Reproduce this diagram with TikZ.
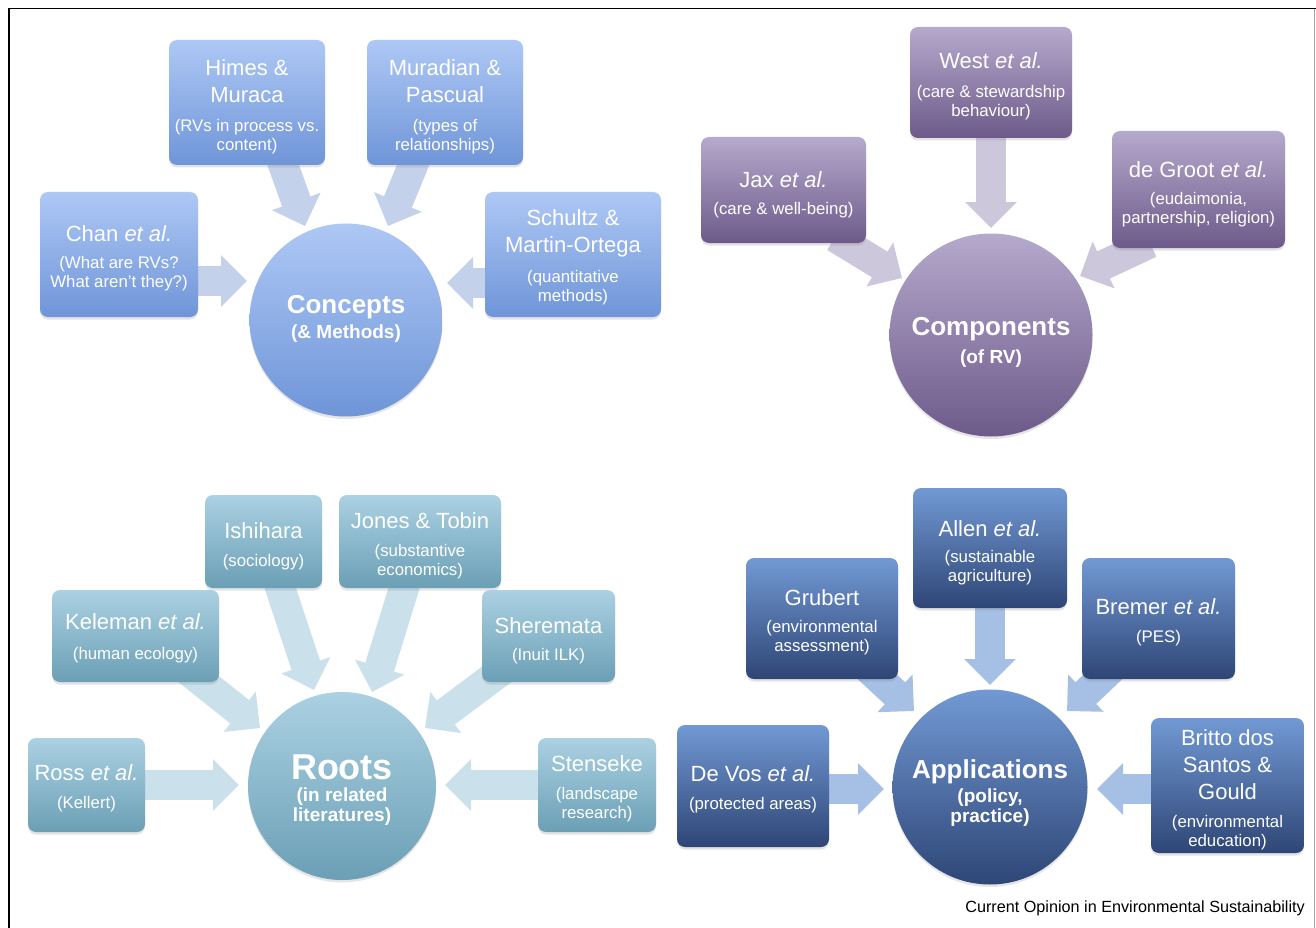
\documentclass[tikz,border=0pt]{standalone}
\usepackage{fontspec}
\setmainfont{Liberation Sans}
\usetikzlibrary{arrows.meta,shadows}
\pgfdeclarelayer{bg}
\pgfsetlayers{bg,main}

\definecolor{cCt}{HTML}{AEC8F5}\definecolor{cCb}{HTML}{6F95D8}\definecolor{cCa}{HTML}{C4D1EB}
\definecolor{cPt}{HTML}{B5A9CC}\definecolor{cPb}{HTML}{6D5A8A}\definecolor{cPa}{HTML}{CDC7DB}
\definecolor{cRt}{HTML}{ABD1E2}\definecolor{cRb}{HTML}{6B9FB5}\definecolor{cRa}{HTML}{CAE1EB}
\definecolor{cAt}{HTML}{7299D4}\definecolor{cAb}{HTML}{2E4676}\definecolor{cAa}{HTML}{A6BFE4}

\tikzset{
  box/.style={rounded corners=8pt, inner sep=0pt,
    drop shadow={shadow xshift=0pt, shadow yshift=-2.5pt, opacity=.22}},
  boxC/.style={box, top color=cCt, bottom color=cCb},
  boxP/.style={box, top color=cPt, bottom color=cPb},
  boxR/.style={box, top color=cRt, bottom color=cRb},
  boxA/.style={box, top color=cAt, bottom color=cAb},
  hub/.style={circle, inner sep=0pt,
    drop shadow={shadow xshift=0pt, shadow yshift=-2.5pt, opacity=.2}},
  hubC/.style={hub, top color=cCt, bottom color=cCb},
  hubP/.style={hub, top color=cPt, bottom color=cPb},
  hubR/.style={hub, top color=cRt, bottom color=cRb},
  hubA/.style={hub, top color=cAt, bottom color=cAb},
  head/.style={text=white, font=\fontsize{22}{27}\selectfont, align=center, inner sep=0pt, yshift=-1.5pt},
  sub/.style={text=white, font=\fontsize{16.8}{19}\selectfont, align=center, inner sep=0pt, yshift=-1.5pt},
  title/.style={text=white, font=\bfseries\fontsize{26}{30}\selectfont, align=center, inner sep=0pt, yshift=-1pt},
  bigtitle/.style={text=white, font=\bfseries\fontsize{36}{40}\selectfont, align=center, inner sep=0pt, yshift=-1pt},
  subtitle/.style={text=white, font=\bfseries\fontsize{19}{20}\selectfont, align=center, inner sep=0pt, yshift=-1pt},
  blockarrow/.style={line width=30pt, -{Triangle[width=50pt,length=26pt]}},
  arrC/.style={blockarrow, draw=cCa, fill=cCa},
  arrP/.style={blockarrow, draw=cPa, fill=cPa},
  arrR/.style={blockarrow, draw=cRa, fill=cRa},
  arrA/.style={blockarrow, draw=cAa, fill=cAa},
}

\begin{document}
\begin{tikzpicture}[x=1pt,y=-1pt]
\useasboundingbox (0,0) rectangle (1316,928);
\begin{pgfonlayer}{bg}
\fill[white] (0,0) rectangle (1316,928);
\end{pgfonlayer}
% frame
\draw[line width=1.6pt] (9,928) -- (9,8.5) -- (1316,8.5);
\draw[black!35, line width=0.8pt] (1314.5,9) -- (1314.5,928);

% ================= Concepts =================
\node[hubC, minimum size=193pt] (concepts) at (346,320) {};
\node[title] (conT) at (346,306) {Concepts};
\node[subtitle] (conS) at (346,333) {(\& Methods)};

\node[boxC, minimum width=156pt, minimum height=125pt] (him) at (247,102.5) {};
\node[head] (himH) at (247,79.5) {Himes \&\\Muraca};
\node[sub] (himS) at (247,135) {(RVs in process vs.\\content)};

\node[boxC, minimum width=156pt, minimum height=125pt] (mur) at (445,102.5) {};
\node[head] (murH) at (445,79.5) {Muradian \&\\Pascual};
\node[sub] (murS) at (445,135.5) {(types of\\relationships)};

\node[boxC, minimum width=158pt, minimum height=125pt] (chan) at (119,254.5) {};
\node[head] (chanH) at (119,232) {Chan \textit{et al.}};
\node[sub] (chanS) at (119,272.5) {(What are RVs?\\What aren’t they?)};

\node[boxC, minimum width=176pt, minimum height=125pt] (sch) at (573,254.5) {};
\node[head] (schH) at (573,231.5) {Schultz \&\\Martin-Ortega};
\node[sub] (schS) at (573,286.5) {(quantitative\\methods)};

\coordinate (tC1) at (305,226);
\coordinate (tC2) at (388,226);
\coordinate (tC3) at (247,281);
\coordinate (tC4) at (447,283);

% ================= Components =================
\node[hubP, minimum size=203pt] (components) at (991,335) {};
\node[title] (compT) at (991,328) {Components};
\node[subtitle] (compS) at (991,358) {(of RV)};

\node[boxP, minimum width=162pt, minimum height=111pt] (west) at (991,82.5) {};
\node[head] (westH) at (991,59) {West \textit{et al.}};
\node[sub] (westS) at (991,101) {(care \& stewardship\\behaviour)};

\node[boxP, minimum width=165pt, minimum height=106pt] (jax) at (783.5,190) {};
\node[head] (jaxH) at (783.5,178) {Jax \textit{et al.}};
\node[sub] (jaxS) at (783.5,209) {(care \& well-being)};

\node[boxP, minimum width=173pt, minimum height=117pt] (groot) at (1198.5,189.5) {};
\node[head] (grootH) at (1198.5,168) {de Groot \textit{et al.}};
\node[sub] (grootS) at (1198.5,208.5) {(eudaimonia,\\partnership, religion)};

\coordinate (tP1) at (991,228);
\coordinate (tP2) at (902,278);
\coordinate (tP3) at (1080,276);

% ================= Roots =================
\node[hubR, minimum size=188pt] (roots) at (342,786) {};
\node[bigtitle] (rootT) at (342,766) {Roots};
\node[subtitle] (rootS) at (342,806) {(in related\\literatures)};

\node[boxR, minimum width=117pt, minimum height=93pt] (ish) at (263.5,541.5) {};
\node[head] (ishH) at (263.5,529) {Ishihara};
\node[sub] (ishS) at (263.5,561) {(sociology)};

\node[boxR, minimum width=162pt, minimum height=93pt] (jones) at (420,541.5) {};
\node[head] (jonesH) at (420,519) {Jones \& Tobin};
\node[sub] (jonesS) at (420,560) {(substantive\\economics)};

\node[boxR, minimum width=167pt, minimum height=92pt] (kel) at (135.5,636) {};
\node[head] (kelH) at (135.5,620) {Keleman \textit{et al.}};
\node[sub] (kelS) at (135.5,654) {(human ecology)};

\node[boxR, minimum width=133pt, minimum height=92pt] (sher) at (548.5,636) {};
\node[head] (sherH) at (548.5,624) {Sheremata};
\node[sub] (sherS) at (548.5,655) {(Inuit ILK)};

\node[boxR, minimum width=117pt, minimum height=94pt] (ross) at (86.5,785) {};
\node[head] (rossH) at (86.5,771) {Ross \textit{et al.}};
\node[sub] (rossS) at (86.5,803) {(Kellert)};

\node[boxR, minimum width=118pt, minimum height=94pt] (sten) at (597,785) {};
\node[head] (stenH) at (597,762) {Stenseke};
\node[sub] (stenS) at (597,803) {(landscape\\research)};

\coordinate (tR1) at (314,690);
\coordinate (tR2) at (372,692);
\coordinate (tR3) at (260,728);
\coordinate (tR4) at (425,728);
\coordinate (tR5) at (239,785);
\coordinate (tR6) at (445,785);

% ================= Applications =================
\node[hubA, minimum size=195pt] (applications) at (990,787) {};
\node[title] (appT) at (990,771) {Applications};
\node[subtitle] (appS) at (990,806.5) {(policy,\\practice)};

\node[boxA, minimum width=154pt, minimum height=120pt] (allen) at (990,548) {};
\node[head] (allenH) at (990,527) {Allen \textit{et al.}};
\node[sub] (allenS) at (990,566.5) {(sustainable\\agriculture)};

\node[boxA, minimum width=152pt, minimum height=121pt] (grub) at (822,618.5) {};
\node[head] (grubH) at (822,596) {Grubert};
\node[sub] (grubS) at (822,636) {(environmental\\assessment)};

\node[boxA, minimum width=153pt, minimum height=121pt] (brem) at (1158.5,618.5) {};
\node[head] (bremH) at (1158.5,605) {Bremer \textit{et al.}};
\node[sub] (bremS) at (1158.5,637) {(PES)};

\node[boxA, minimum width=152pt, minimum height=122pt] (devos) at (753,786) {};
\node[head] (devosH) at (753,772) {De Vos \textit{et al.}};
\node[sub] (devosS) at (753,804) {(protected areas)};

\node[boxA, minimum width=153pt, minimum height=135pt] (britto) at (1227.5,785.5) {};
\node[head] (brittoH) at (1227.5,763) {Britto dos\\Santos \&\\Gould};
\node[sub] (brittoS) at (1227.5,831.5) {(environmental\\education)};

\coordinate (tA1) at (990,685);
\coordinate (tA2) at (914,711);
\coordinate (tA3) at (1067,711);
\coordinate (tA4) at (884,789);
\coordinate (tA5) at (1097,789);

% caption
\node[anchor=east, inner sep=0pt, font=\fontsize{16.2}{18}\selectfont] (caption) at (1305,908)
  {Current Opinion in Environmental Sustainability};

% ================= arrows (behind) =================
\begin{pgfonlayer}{bg}
\draw[arrC] ([xshift=32pt,yshift=12pt]him.south) -- (tC1);
\draw[arrC] ([xshift=-27pt,yshift=12pt]mur.south) -- (tC2);
\draw[arrC] ([xshift=-13pt,yshift=-26.5pt]chan.east) -- (tC3);
\draw[arrC] ([xshift=15pt,yshift=-28.5pt]sch.west) -- (tC4);

\draw[arrP] ([yshift=10pt]west.south) -- (tP1);
\draw[arrP] ([xshift=51.5pt,yshift=6pt]jax.south) -- (tP2);
\draw[arrP] ([xshift=-48.5pt,yshift=5pt]groot.south) -- (tP3);

\draw[arrR] ([xshift=12.5pt,yshift=13pt]ish.south) -- (tR1);
\draw[arrR] ([xshift=-12pt,yshift=13pt]jones.south) -- (tR2);
\draw[arrR] ([xshift=49.5pt,yshift=14pt]kel.south) -- (tR3);
\draw[arrR] ([xshift=-43.5pt,yshift=14pt]sher.south) -- (tR4);
\draw[arrR] ([xshift=-15pt]ross.east) -- (tR5);
\draw[arrR] ([xshift=12pt]sten.west) -- (tR6);

\draw[arrA] ([yshift=12pt]allen.south) -- (tA1);
\draw[arrA] ([xshift=46pt,yshift=11pt]grub.south) -- (tA2);
\draw[arrA] ([xshift=-46.5pt,yshift=11pt]brem.south) -- (tA3);
\draw[arrA] ([xshift=-14pt,yshift=-3pt]devos.east) -- (tA4);
\draw[arrA] ([xshift=14pt,yshift=-3.5pt]britto.west) -- (tA5);
\end{pgfonlayer}
\end{tikzpicture}
\end{document}
